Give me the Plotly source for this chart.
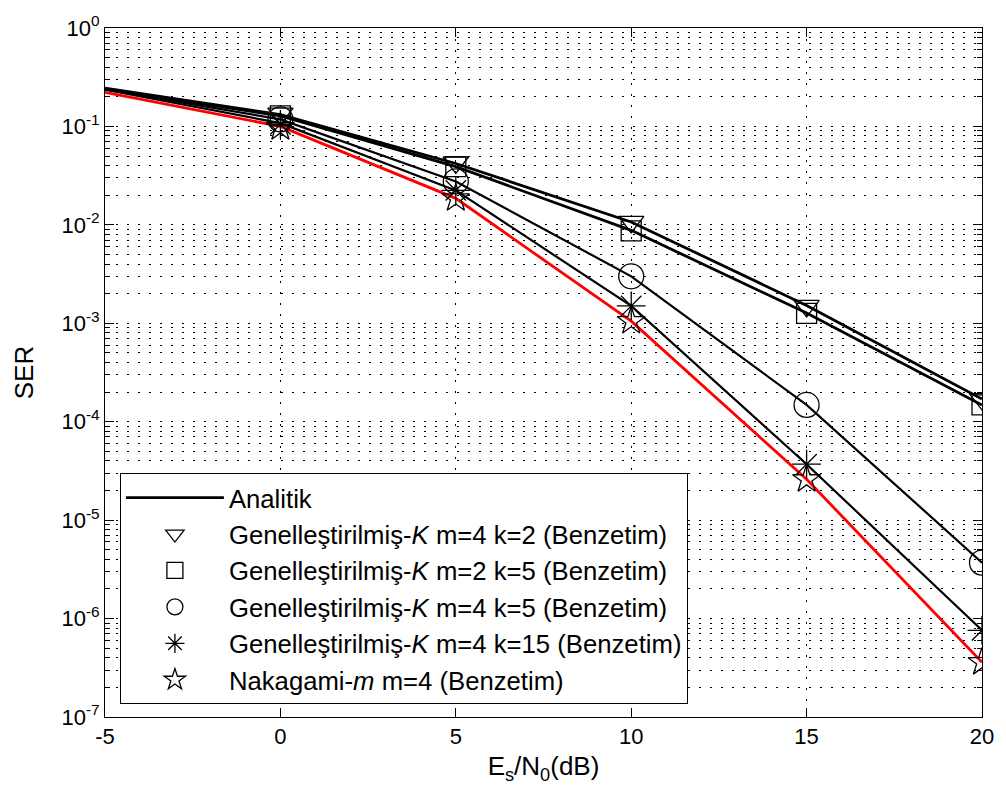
import plotly.graph_objects as go

# ---------------- data ----------------
x_analytic = [-5, 0, 5, 10, 15, 20]
an_m4_k2 = [0.245, 0.132, 0.042, 0.0107, 0.00152, 1.70e-4]
an_m2_k5 = [0.240, 0.128, 0.039, 0.0088, 0.00127, 1.48e-4]
an_m4_k5 = [0.238, 0.118, 0.0276, 0.0030, 1.48e-4, 3.7e-6]
an_m4_k15 = [0.236, 0.108, 0.0224, 0.00150, 3.7e-5, 7.6e-7]
an_nakagami = [0.222, 0.100, 0.0186, 0.00105, 2.6e-5, 3.6e-7]

x_sim = [0, 5, 10, 15, 20]
sim_m4_k2 = [0.135, 0.043, 0.0107, 0.00150, 1.70e-4]
sim_m2_k5 = [0.128, 0.039, 0.0087, 0.00126, 1.48e-4]
sim_m4_k5 = [0.118, 0.0276, 0.0030, 1.48e-4, 3.7e-6]
sim_m4_k15 = [0.105, 0.0224, 0.00150, 3.7e-5, 7.6e-7]
sim_nakagami = [0.098, 0.0186, 0.00105, 2.6e-5, 3.6e-7]

sim_names = [
    "Genelleştirilmiş-<i>K</i> m=4 k=2 (Benzetim)",
    "Genelleştirilmiş-<i>K</i> m=2 k=5 (Benzetim)",
    "Genelleştirilmiş-<i>K</i> m=4 k=5 (Benzetim)",
    "Genelleştirilmiş-<i>K</i> m=4 k=15 (Benzetim)",
    "Nakagami-<i>m</i> m=4 (Benzetim)",
]
sim_symbols = ["triangle-down-open", "square-open", "circle-open", "asterisk-open", "star-open"]
sim_sizes = [22, 20, 25, 24, 21]

y_tickvals = [1e-7, 1e-6, 1e-5, 1e-4, 1e-3, 1e-2, 1e-1, 1e0]
y_ticktext = ["10<sup>-7</sup>", "10<sup>-6</sup>", "10<sup>-5</sup>", "10<sup>-4</sup>",
              "10<sup>-3</sup>", "10<sup>-2</sup>", "10<sup>-1</sup>", "10<sup>0</sup>"]
x_tickvals = [-5, 0, 5, 10, 15, 20]
x_ticktext = ["-5", "0", "5", "10", "15", "20"]

FONT = "Liberation Sans, Arial, sans-serif"
GRID_DASH = "2px,9px"

fig = go.Figure()

# analytic curves
black_curves = [an_m4_k2, an_m2_k5, an_m4_k5, an_m4_k15]
black_widths = [2.8, 2.8, 2.2, 2.2]
for i, (yy, w) in enumerate(zip(black_curves, black_widths)):
    fig.add_trace(go.Scatter(
        x=x_analytic, y=yy, mode="lines",
        line=dict(color="black", width=w),
        name="Analitik", showlegend=(i == 0), legendrank=1,
    ))
fig.add_trace(go.Scatter(
    x=x_analytic, y=an_nakagami, mode="lines",
    line=dict(color="red", width=2.8), showlegend=False,
))

# simulation markers
sims = [sim_m4_k2, sim_m2_k5, sim_m4_k5, sim_m4_k15, sim_nakagami]
for k, (yy, nm, sym, sz) in enumerate(zip(sims, sim_names, sim_symbols, sim_sizes)):
    fig.add_trace(go.Scatter(
        x=x_sim, y=yy, mode="markers", name=nm,
        marker=dict(symbol=sym, size=sz, color="black", line=dict(color="black", width=1.3)),
        legendrank=2 + k,
    ))

fig.update_layout(
    width=1006, height=800,
    margin=dict(l=105, r=19, t=24, b=83),
    paper_bgcolor="white", plot_bgcolor="white",
    font=dict(family=FONT, size=22, color="black"),
    legend=dict(
        x=0.017, y=0.3535, xanchor="left", yanchor="top",
        bgcolor="white", bordercolor="black", borderwidth=1,
        font=dict(family=FONT, size=25.7, color="black"),
        itemwidth=98,
    ),
    xaxis=dict(
        range=[-5, 20], tickvals=x_tickvals, ticktext=x_ticktext,
        showgrid=True, gridcolor="black", griddash=GRID_DASH, gridwidth=1,
        zeroline=False, showline=True, linecolor="black", linewidth=1, mirror="ticks",
        ticks="inside", ticklen=9, tickcolor="black",
        title=dict(text="E<sub>s</sub>/N<sub>0</sub>(dB)", standoff=8),
    ),
    yaxis=dict(
        type="log", range=[-7, 0], tickvals=y_tickvals, ticktext=y_ticktext,
        showgrid=True, gridcolor="black", griddash=GRID_DASH, gridwidth=1,
        zeroline=False, showline=True, linecolor="black", linewidth=1, mirror="ticks",
        ticks="inside", ticklen=9, tickcolor="black",
        minor=dict(dtick="D1", ticks="inside", ticklen=5, tickcolor="black",
                   showgrid=True, gridcolor="black", griddash=GRID_DASH, gridwidth=1),
        title=dict(text="SER", standoff=20),
    ),
)

fig.write_html("out.html")
